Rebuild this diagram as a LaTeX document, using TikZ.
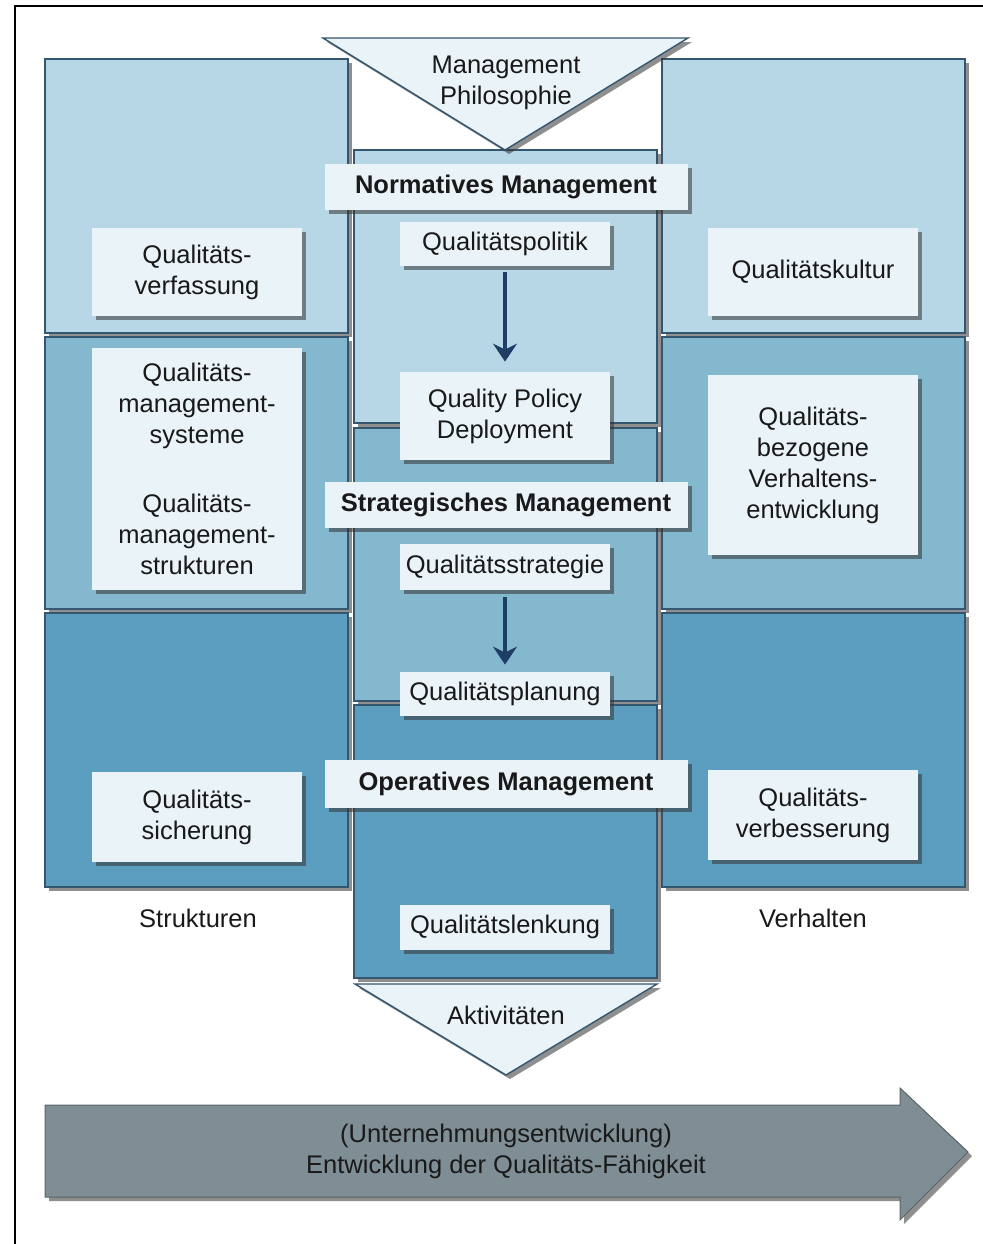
\documentclass[tikz,border=0pt]{standalone}
\usepackage{fontspec}
\setmainfont{Liberation Sans}
\usetikzlibrary{shadows,arrows.meta}

\definecolor{rowA}{RGB}{183,215,230}
\definecolor{rowB}{RGB}{131,184,207}
\definecolor{rowC}{RGB}{91,158,191}
\definecolor{boxfill}{RGB}{234,243,247}
\definecolor{edgeblue}{RGB}{52,86,110}
\definecolor{flowblue}{RGB}{31,62,102}
\definecolor{bandgray}{RGB}{127,142,149}

\begin{document}
\begin{tikzpicture}[x=0.5pt,y=-0.5pt,
    every node/.style={font=\fontsize{12.75}{15.5}\selectfont, text=black!90},
    shade/.style={drop shadow={shadow xshift=2pt,shadow yshift=-2pt,opacity=0.55,fill=black!80}},
    panel/.style={draw=edgeblue, line width=0.7pt, shade},
    lbox/.style={fill=boxfill, align=center, inner sep=0pt, minimum width=105pt, shade},
    mbox/.style={lbox, minimum width=181.5pt, minimum height=23pt, font=\fontsize{12.75}{15.5}\selectfont\bfseries},
    flow/.style={-{Stealth[length=9pt,width=12pt,inset=3pt]}, flowblue, line width=1.6pt}]

    \useasboundingbox (0,0) rectangle (983,1244);
    \draw[line width=1.1pt] (15,1244) -- (15,6) -- (983,6);

% Strukturen / Verhalten
    \filldraw[panel, fill=rowA] (45,59) rectangle (348,333);
    \filldraw[panel, fill=rowB] (45,337) rectangle (348,609);
    \filldraw[panel, fill=rowC] (45,613) rectangle (348,887);
    \filldraw[panel, fill=rowA] (662,59) rectangle (965,333);
    \filldraw[panel, fill=rowB] (662,337) rectangle (965,609);
    \filldraw[panel, fill=rowC] (662,613) rectangle (965,887);

% Aktivitaeten
    \filldraw[panel, fill=rowA] (354,150) rectangle (657,423);
    \filldraw[panel, fill=rowB] (354,428) rectangle (657,701);
    \filldraw[panel, fill=rowC] (354,705) rectangle (657,978);

    \filldraw[panel, fill=boxfill] (323,38) -- (688,38) -- (505,150) -- cycle;
    \filldraw[panel, fill=boxfill] (355,984) -- (657,984) -- (506,1075) -- cycle;
    \node[align=center] (philo) at (506,83) {Management\\Philosophie};
    \node (aktiv) at (506,1015) {Aktivitäten};

    \node[lbox, minimum height=44pt] (verfassung) at (197,272) {Qualitäts-\\verfassung};
    \node[lbox, minimum height=121pt] (systeme) at (197,469)
        {Qualitäts-\\management-\\systeme\\[19pt]Qualitäts-\\management-\\strukturen};
    \node[lbox, minimum height=45pt] (sicherung) at (197,817) {Qualitäts-\\sicherung};
    \node[lbox, minimum height=44pt] (kultur) at (813,272) {Qualitätskultur};
    \node[lbox, minimum height=90pt] (verhalten) at (813,465)
        {Qualitäts-\\bezogene\\Verhaltens-\\entwicklung};
    \node[lbox, minimum height=45pt] (verbesserung) at (813,815) {Qualitäts-\\verbesserung};

    \node[mbox] (normativ) at (506,187) {Normatives Management};
    \node[lbox, minimum height=22pt] (politik) at (505,244) {Qualitätspolitik};
    \node[lbox, minimum height=44pt] (qpd) at (505,416) {Quality Policy\\Deployment};
    \node[mbox] (strategisch) at (506,505) {Strategisches Management};
    \node[lbox, minimum height=23pt] (strategie) at (505,567) {Qualitätsstrategie};
    \node[lbox, minimum height=22pt] (planung) at (505,694) {Qualitätsplanung};
    \node[mbox, minimum height=24pt] (operativ) at (506,784) {Operatives Management};
    \node[lbox, minimum height=22.5pt] (lenkung) at (505,927) {Qualitätslenkung};

    \draw[flow, shorten <=3pt, shorten >=5pt] (politik) -- (qpd);
    \draw[flow, shorten <=3.5pt, shorten >=3.5pt] (strategie) -- (planung);

    \node (strukturen) at (198,918) {Strukturen};
    \node (verhaltenlbl) at (813,918) {Verhalten};

% Entwicklung
    \filldraw[fill=bandgray, draw=bandgray!70!black, line width=0.5pt, shade]
        (45,1105) -- (900,1105) -- (900,1088) -- (968,1152) -- (900,1220) -- (900,1197) -- (45,1197) -- cycle;
    \node[align=center] (entwicklung) at (506,1151)
        {(Unternehmungsentwicklung)\\Entwicklung der Qualitäts-Fähigkeit};

\end{tikzpicture}
\end{document}
